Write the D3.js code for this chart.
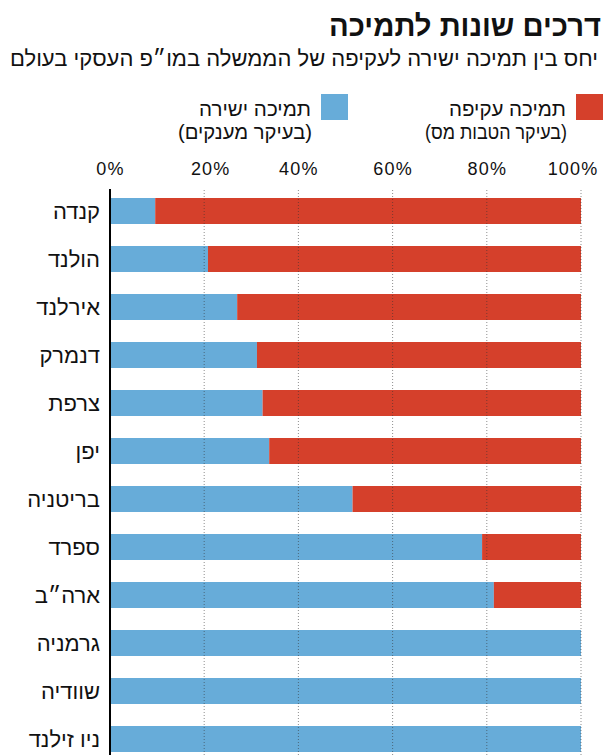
<!DOCTYPE html>
<html lang="he">
<head>
    <meta charset="UTF-8">
    <script src="https://d3js.org/d3.v7.min.js"></script>
    <title>דרכים שונות לתמיכה</title>
    <style>
        body { margin: 0; background: #fff; }
        svg { display: block; }
        text { font-family: "Liberation Sans", "DejaVu Sans", sans-serif; fill: #111; }
    </style>
</head>
<body>

<script>
    // Data (share of direct support, %)
    const countries = ["קנדה", "הולנד", "אירלנד", "דנמרק", "צרפת", "יפן",
        "בריטניה", "ספרד", "ארה״ב", "גרמניה", "שוודיה", "ניו זילנד"];
    const directSupport = [9.6, 20.8, 27, 31.2, 32.4, 33.8, 51.5, 79, 81.5, 100, 100, 100];
    const indirectSupport = [90.4, 79.2, 73, 68.8, 67.6, 66.2, 48.5, 21, 18.5, 0, 0, 0];
    const tickValues = [0, 20, 40, 60, 80, 100];
    const tickLabels = ["0%", "20%", "40%", "60%", "80%", "100%"];

    const titleText = "דרכים שונות לתמיכה";
    const subtitleText = "יחס בין תמיכה ישירה לעקיפה של הממשלה במו״פ העסקי בעולם";
    const legendNames = ["תמיכה עקיפה", "תמיכה ישירה"];
    const legendNotes = ["(בעיקר הטבות מס)", "(בעיקר מענקים)"];

    const blue = "#67acd9";
    const red = "#d5402b";

    const width = 605, height = 755;

    const svg = d3.select("body").append("svg")
        .attr("width", width)
        .attr("height", height);

    // Title + subtitle (right aligned, rtl)
    svg.append("text")
        .attr("x", 601).attr("y", 36)
        .attr("direction", "rtl")
        .attr("text-anchor", "start")
        .attr("font-size", 29)
        .attr("font-weight", "bold")
        .attr("textLength", 272)
        .attr("lengthAdjust", "spacingAndGlyphs")
        .text(titleText);

    svg.append("text")
        .attr("x", 598).attr("y", 66)
        .attr("direction", "rtl")
        .attr("text-anchor", "start")
        .attr("font-size", 22)
        .attr("textLength", 588)
        .attr("lengthAdjust", "spacingAndGlyphs")
        .text(subtitleText);

    // Legend
    const legendX = [603, 348];
    const legendColors = [red, blue];
    const legendNameW = [117, 112];
    const legendNoteW = [142, 134];

    legendNames.forEach((name, i) => {
        const g = svg.append("g");
        g.append("rect")
            .attr("x", legendX[i] - 27).attr("y", 94)
            .attr("width", 27).attr("height", 26)
            .attr("fill", legendColors[i]);
        g.append("text")
            .attr("x", legendX[i] - 37).attr("y", 116)
            .attr("direction", "rtl")
            .attr("text-anchor", "start")
            .attr("font-size", 20.5)
            .attr("textLength", legendNameW[i])
            .attr("lengthAdjust", "spacingAndGlyphs")
            .text(name);
        g.append("text")
            .attr("x", legendX[i] - 36).attr("y", 139)
            .attr("direction", "rtl")
            .attr("text-anchor", "start")
            .attr("font-size", 20.5)
            .attr("textLength", legendNoteW[i])
            .attr("lengthAdjust", "spacingAndGlyphs")
            .text(legendNotes[i]);
    });

    // Scales
    const x = d3.scaleLinear()
        .domain([0, 100])
        .range([110, 581]);

    const y = d3.scaleBand()
        .domain(countries)
        .range([187, 187 + 48 * countries.length])
        .paddingInner(22 / 48)
        .paddingOuter(11 / 48);

    // Top axis labels
    const xAxis = d3.axisTop(x)
        .tickValues(tickValues)
        .tickSize(0)
        .tickPadding(0)
        .tickFormat((d, i) => tickLabels[i]);

    const axisG = svg.append("g")
        .attr("transform", "translate(0,175)")
        .call(xAxis);
    axisG.select(".domain").remove();
    axisG.selectAll("text")
        .attr("font-family", "Liberation Sans, sans-serif")
        .attr("font-size", 18)
        .attr("letter-spacing", 1.2)
        .attr("fill", "#111")
        .attr("dy", 0)
        .attr("text-anchor", d => d === 100 ? "end" : "middle")
        .attr("dx", d => d === 100 ? 17 : (d === 20 ? 6 : 0));

    // Bars
    const rows = svg.append("g");
    countries.forEach((c, i) => {
        rows.append("rect")
            .attr("x", x(0))
            .attr("y", y(c))
            .attr("width", x(directSupport[i]) - x(0))
            .attr("height", y.bandwidth())
            .attr("fill", blue);
        if (indirectSupport[i] > 0) {
            rows.append("rect")
                .attr("x", x(directSupport[i]))
                .attr("y", y(c))
                .attr("width", x(100) - x(directSupport[i]))
                .attr("height", y.bandwidth())
                .attr("fill", red);
        }
    });

    // Dotted gridlines
    svg.append("g")
        .selectAll("line")
        .data(tickValues.slice(1))
        .join("line")
        .attr("x1", d => x(d)).attr("x2", d => x(d))
        .attr("y1", 190).attr("y2", height)
        .attr("stroke", "#333")
        .attr("stroke-width", 1)
        .attr("stroke-dasharray", "1,2")
        .attr("opacity", 0.55);

    // Vertical axis line
    svg.append("line")
        .attr("x1", x(0)).attr("x2", x(0))
        .attr("y1", 189).attr("y2", height)
        .attr("stroke", "#000")
        .attr("stroke-width", 2);

    // Country labels
    svg.append("g")
        .selectAll("text")
        .data(countries)
        .join("text")
        .attr("x", 100)
        .attr("y", d => y(d) + y.bandwidth() / 2 + 8)
        .attr("direction", "rtl")
        .attr("text-anchor", "start")
        .attr("font-size", 22)
        .text(d => d);
</script>

</body>
</html>
